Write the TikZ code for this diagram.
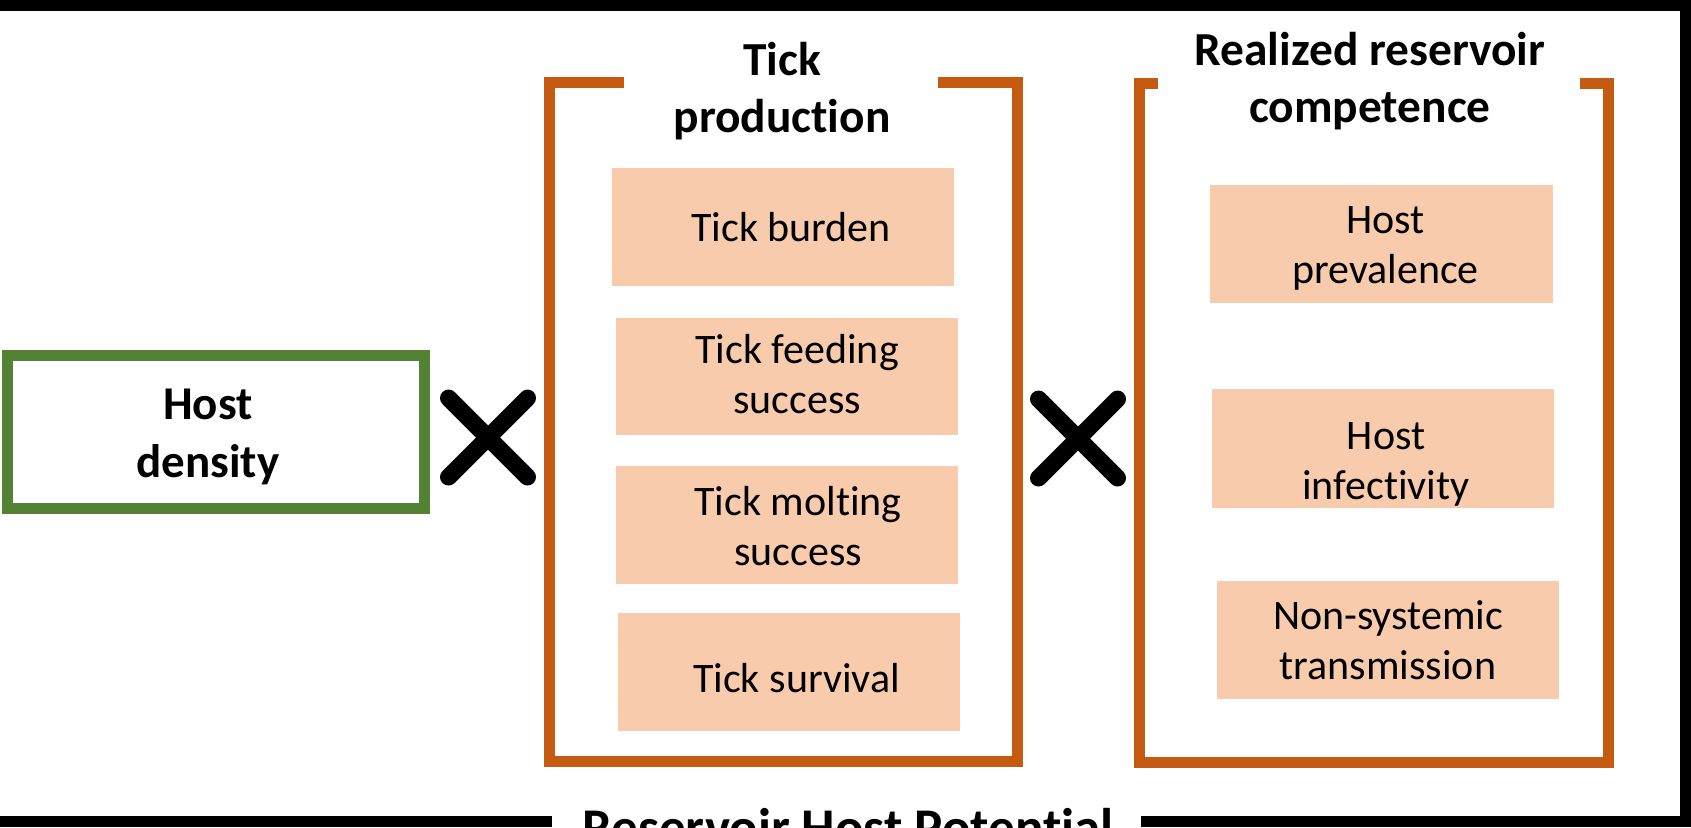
\documentclass[tikz,border=0pt]{standalone}
\usepackage{fontspec}
\setmainfont{Carlito}[Ligatures=NoCommon]
\definecolor{orangeb}{HTML}{C55A11}
\definecolor{peach}{HTML}{F8CBAD}
\definecolor{greenb}{HTML}{548235}
\newcommand{\mlines}[1]{\begin{tabular}[t]{@{}c@{}}#1\end{tabular}}
\tikzset{
  pbox/.style={fill=peach, draw=none, inner sep=0pt, minimum width=171pt, minimum height=59pt},
  ptext/.style={anchor=base, inner sep=0pt, font=\fontsize{21}{25}\selectfont},
  ttext/.style={anchor=base, inner sep=0pt, font=\bfseries\fontsize{23.7}{28.5}\selectfont},
  bracket/.style={draw=orangeb, line width=5.5pt},
  crossline/.style={line width=8.5pt, line cap=round},
  framelne/.style={line width=5.5pt},
}
\begin{document}
\begin{tikzpicture}[x=0.5pt,y=-0.5pt]
\useasboundingbox (0,0) rectangle (1691,827);
\fill[white] (0,0) rectangle (1691,827);
% outer frame
\draw[framelne] (-30,5.5) -- (1685.5,5.5) -- (1685.5,821.5) -- (1141,821.5);
\draw[framelne] (552,821.5) -- (-30,821.5);
\node[anchor=base, inner sep=0pt, font=\bfseries\fontsize{26.5}{32}\selectfont] (rhp) at (848,845.4) {Reservoir Host Potential};
% host density
\node[draw=greenb, line width=5.5pt, minimum width=208.75pt, minimum height=76.25pt, inner sep=0pt] (hd) at (215.75,431.75) {};
\node[ttext, font=\bfseries\fontsize{23.5}{29}\selectfont] (hdt) at (208,419) {\mlines{Host\\density}};
% crosses
\coordinate (x1) at (488,437.5);
\draw[crossline] ([shift={(-39.5,-39.5)}]x1) -- ([shift={(39.5,39.5)}]x1);
\draw[crossline] ([shift={(-39.5,39.5)}]x1) -- ([shift={(39.5,-39.5)}]x1);
\coordinate (x2) at (1078,438.5);
\draw[crossline] ([shift={(-39.5,-39.5)}]x2) -- ([shift={(39.5,39.5)}]x2);
\draw[crossline] ([shift={(-39.5,39.5)}]x2) -- ([shift={(39.5,-39.5)}]x2);
% tick production bracket
\draw[bracket] (624,82.5) -- (549.5,82.5) -- (549.5,761.5) -- (1017.5,761.5) -- (1017.5,82.5) -- (938,82.5);
\node[ttext] (tp) at (782,75) {\mlines{Tick\\production}};
\node[pbox] (b1) at (783,227) {};
\node[pbox, minimum height=58.5pt] (b2) at (787,376.5) {};
\node[pbox] (b3) at (787,525) {};
\node[pbox] (b4) at (789,672) {};
\node[ptext] (t1) at (791,241) {Tick burden};
\node[ptext] (t2) at (797,363) {\mlines{Tick feeding\\success}};
\node[ptext] (t3) at (798,515) {\mlines{Tick molting\\success}};
\node[ptext] (t4) at (796.5,692) {Tick survival};
% realized reservoir competence bracket
\draw[bracket] (1158,83) -- (1139.5,83) -- (1139.5,762) -- (1608,762) -- (1608,83) -- (1580,83);
\node[ttext] (rc) at (1370,65) {\mlines{Realized reservoir\\competence}};
\node[pbox, minimum width=171.5pt] (r1) at (1381.5,244) {};
\node[pbox, minimum height=59.5pt] (r2) at (1383,448.5) {};
\node[pbox] (r3) at (1388,640) {};
\node[ptext] (s1) at (1385.5,233) {\mlines{Host\\prevalence}};
\node[ptext] (s2) at (1386,449) {\mlines{Host\\infectivity}};
\node[ptext] (s3) at (1388,629) {\mlines{Non-systemic\\transmission}};
\end{tikzpicture}
\end{document}
